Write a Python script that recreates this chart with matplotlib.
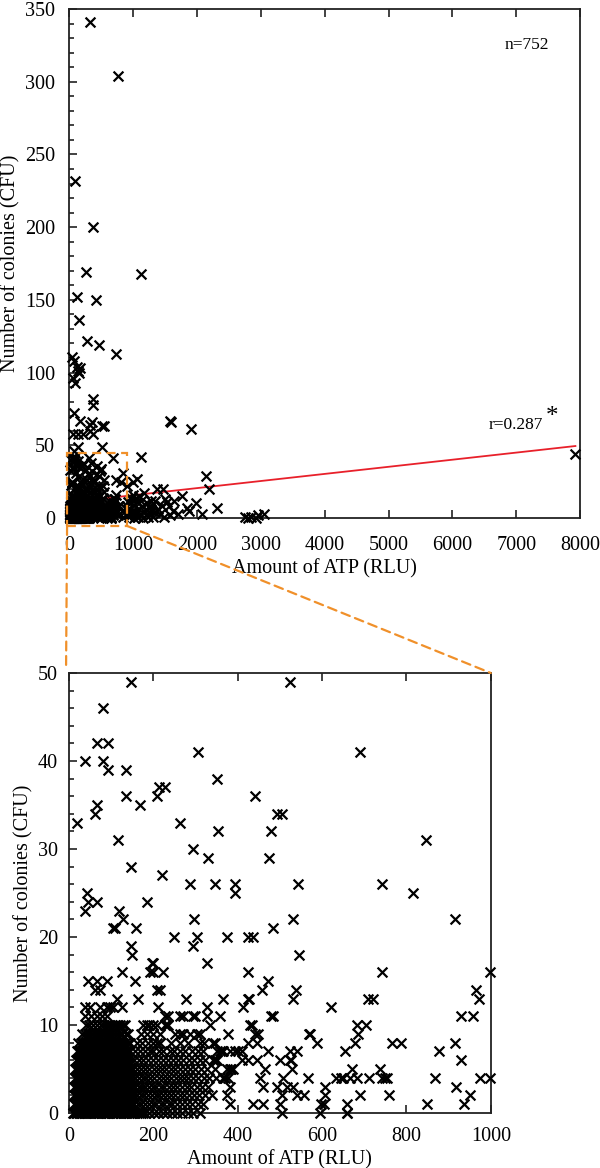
import numpy as np
import matplotlib.pyplot as plt
from matplotlib.patches import Rectangle, ConnectionPatch
from matplotlib.ticker import MultipleLocator

plt.rcParams['font.family'] = ['Liberation Serif', 'DejaVu Serif']

# ATP (RLU) values of samples in the 0-1000 / 0-50 window, one list per colony count
x_cfu0 = [10, 12, 16, 20, 24, 27, 31, 36, 40, 43, 47, 52, 56, 60, 64, 69, 72, 76, 80, 85, 88, 92,
          96, 101, 104, 108, 112, 117, 120, 124, 128, 133, 137, 142, 146, 150, 155, 161, 165, 170,
          175, 181, 190, 201, 210, 222, 233, 245, 256, 268, 282, 295, 311, 504, 595, 658, 660]
x_cfu1 = [11, 15, 19, 22, 26, 30, 34, 37, 40, 44, 48, 51, 54, 58, 62, 65, 68, 72, 76, 79, 82, 86,
          90, 93, 96, 100, 104, 107, 110, 114, 118, 121, 124, 128, 132, 136, 139, 143, 147, 151,
          155, 164, 171, 181, 189, 199, 207, 217, 225, 236, 245, 257, 267, 280, 292, 306, 318, 382,
          437, 461, 500, 598, 604, 658, 848, 936]
x_cfu2 = [12, 15, 18, 22, 26, 29, 33, 37, 41, 44, 47, 51, 55, 58, 61, 65, 69, 72, 75, 79, 83, 86,
          89, 93, 97, 100, 103, 107, 111, 114, 117, 121, 125, 128, 131, 135, 139, 142, 146, 150,
          155, 162, 171, 178, 188, 196, 206, 214, 224, 232, 243, 252, 263, 273, 285, 296, 309, 322,
          340, 374, 504, 540, 556, 607, 690, 759, 950]
x_cfu3 = [13, 17, 21, 24, 27, 31, 35, 38, 41, 45, 49, 52, 55, 59, 63, 66, 69, 73, 77, 80, 83, 87,
          91, 94, 97, 101, 105, 108, 111, 115, 119, 122, 125, 129, 133, 137, 140, 145, 149, 153,
          156, 165, 172, 181, 189, 199, 207, 217, 226, 237, 246, 257, 267, 279, 290, 303, 315, 330,
          382, 461, 492, 516, 532, 607, 918]
x_cfu4 = [14, 18, 21, 25, 29, 33, 36, 41, 45, 48, 52, 57, 61, 65, 68, 72, 77, 81, 84, 88, 93, 97,
          100, 104, 109, 113, 116, 120, 125, 129, 132, 137, 141, 145, 148, 153, 157, 165, 175, 183,
          193, 202, 213, 222, 233, 242, 253, 262, 273, 283, 295, 305, 319, 332, 349, 365, 370, 377,
          453, 508, 567, 634, 646, 650, 666, 682, 712, 741, 749, 755, 867, 974, 998]
x_cfu5 = [15, 19, 23, 27, 32, 36, 39, 44, 48, 52, 55, 60, 64, 68, 71, 76, 80, 84, 87, 92, 96, 100,
          103, 108, 112, 116, 119, 124, 128, 132, 135, 140, 144, 148, 152, 162, 170, 181, 190, 201,
          210, 221, 230, 242, 252, 264, 274, 287, 298, 313, 328, 345, 374, 382, 385, 389, 464, 528,
          670, 737]
x_cfu6 = [16, 20, 24, 29, 33, 37, 40, 45, 49, 53, 56, 61, 65, 69, 72, 77, 81, 85, 88, 93, 97, 101,
          104, 109, 113, 117, 120, 125, 129, 133, 136, 141, 146, 155, 166, 175, 187, 198, 211, 222,
          235, 246, 259, 270, 284, 296, 311, 322, 342, 346, 350, 411, 425, 445, 500, 524, 527, 930]
x_cfu7 = [18, 23, 27, 31, 35, 40, 45, 49, 52, 57, 62, 66, 70, 75, 80, 84, 88, 93, 98, 102, 106,
          111, 116, 120, 124, 130, 135, 140, 144, 157, 168, 181, 192, 200, 213, 224, 239, 250, 263,
          276, 291, 305, 318, 350, 358, 362, 366, 382, 393, 401, 409, 472, 524, 540, 654, 877]
x_cfu8 = [22, 28, 33, 38, 42, 48, 53, 57, 60, 66, 71, 76, 80, 86, 91, 96, 100, 106, 111, 116, 120,
          127, 133, 139, 145, 161, 172, 187, 200, 208, 216, 241, 263, 281, 311, 320, 342, 346, 425,
          445, 587, 678, 765, 786, 915]
x_cfu9 = [30, 38, 46, 51, 55, 61, 66, 72, 78, 84, 89, 95, 100, 107, 113, 120, 126, 134, 141, 170,
          186, 198, 216, 251, 263, 271, 286, 303, 310, 377, 441, 449, 569, 571, 686]
x_cfu10 = [40, 48, 58, 66, 75, 84, 90, 96, 102, 108, 115, 122, 128, 133, 176, 184, 190, 200, 208,
           227, 231, 235, 334, 429, 433, 682, 704]
x_cfu11 = [38, 52, 66, 78, 89, 227, 235, 263, 271, 295, 299, 326, 358, 480, 484, 930, 958]
x_cfu12 = [38, 50, 73, 89, 97, 105, 125, 212, 326, 413, 622]
x_cfu13 = [113, 164, 277, 364, 425, 426, 530, 710, 721, 972]
x_cfu14 = [62, 73, 208, 216, 457, 539, 966]
x_cfu15 = [46, 66, 89, 156, 472]
x_cfu16 = [125, 192, 200, 224, 425, 743, 999]

# sparse points of the zoom window above 16 CFU
hi_x = [148, 524, 81, 67, 93, 307, 690, 38, 80, 93, 135, 351, 214, 227, 135, 209, 441, 67, 168,
        62, 494, 504, 18, 263, 354, 479, 117, 846, 293, 330, 475, 148, 221, 287, 346, 393, 543,
        743, 43, 393, 816, 45, 66, 186, 38, 118, 128, 297, 531, 915, 105, 110, 160, 484, 249, 304,
        374, 425, 437, 148, 293, 149, 546, 196, 200, 326]
hi_y = [49, 49, 46, 42, 42, 41, 41, 40, 40, 39, 39, 38, 37, 37, 36, 36, 36, 35, 35,
        34, 34, 34, 33, 33, 32, 32, 31, 31, 30, 29, 29, 28, 27, 26, 26, 26, 26,
        26, 25, 25, 25, 24, 24, 24, 23, 23, 22, 22, 22, 22, 21, 21, 21, 21, 20, 20,
        20, 20, 20, 19, 19, 18, 18, 17, 17, 17]

# samples outside the zoom window (only in the full view)
out_x = [330, 770, 95, 380, 270, 1132, 131, 425, 157, 288, 472, 739, 50, 80, 120, 170, 140, 160,
         60, 90, 383, 380, 79, 173, 330, 357, 540, 514, 68, 147, 225, 383, 330,
         1587, 1600, 1913, 1132, 2138, 2196, 2311, 2086, 1981, 1840, 1761, 1378, 1472, 1535,
         1560, 1430, 1320, 1352, 1300, 1483, 1580, 2750, 2800, 2850, 2920, 2960, 3050, 7925,
         1000, 1064, 1170, 1010, 1030, 1050, 1080, 1100, 1120, 1150, 1180, 1200, 1220, 1250,
         1270, 1020, 1040, 1060, 1090, 1130, 1160, 1230, 1280, 1300, 1350, 1400, 1450, 1500,
         1620, 1650, 1700, 1880]
out_y = [341, 304, 232, 200, 169, 168, 152, 150, 136, 122, 119, 113, 111, 108, 104, 103, 101, 100,
         96, 93, 82, 78, 72, 67, 64, 66, 63, 63, 58, 58, 58, 58, 60,
         67, 66, 61, 42, 29, 20, 7, 3, 10, 7, 15, 20, 20, 11,
         8, 3, 1, 12, 9, 1, 2, 1, 0, 1, 0, 2, 3, 44,
         25, 27, 17, 0, 2, 4, 1, 6, 3, 8, 5, 2, 10, 4,
         7, 9, 13, 11, 15, 12, 0, 1, 12, 5, 4, 6, 8, 13,
         5, 12, 3, 5]

# regression line end points (r = 0.287)
trend_x = [600, 7925]
trend_y = [13.7, 49.5]

rows = [x_cfu0, x_cfu1, x_cfu2, x_cfu3, x_cfu4, x_cfu5, x_cfu6, x_cfu7, x_cfu8,
        x_cfu9, x_cfu10, x_cfu11, x_cfu12, x_cfu13, x_cfu14, x_cfu15, x_cfu16]
zx = np.concatenate([np.array(r, float) for r in rows] + [np.array(hi_x, float)])
zy = np.concatenate([np.full(len(r), i, float) for i, r in enumerate(rows)] + [np.array(hi_y, float)])
all_x = np.concatenate([zx, out_x])
all_y = np.concatenate([zy, out_y])

orange = '#F0902A'
fig = plt.figure(figsize=(6, 11.68), dpi=100)
ax1 = fig.add_axes([0.115, 0.5565, 0.852, 0.4358])
ax2 = fig.add_axes([0.115, 0.0471, 0.703, 0.3767])


def style(ax, xpad, ypad):
    for s in ax.spines.values():
        s.set_linewidth(1.3)
        s.set_color('#222222')
    ax.tick_params(which='both', direction='in', top=True, right=False, labelsize=14.5,
                   color='#222222', width=1.2)
    ax.tick_params(which='major', length=6)
    ax.tick_params(which='minor', length=3.5)
    ax.tick_params(axis='x', which='minor', top=False, bottom=False)
    ax.tick_params(axis='x', pad=xpad)
    ax.tick_params(axis='y', pad=ypad)


# full view
ax1.plot(trend_x, trend_y, color='#E8202A', lw=1.3, zorder=2)
ax1.scatter(all_x, all_y, marker='x', s=50, c='black', linewidths=1.6, zorder=3, clip_on=False)
ax1.set_xlim(0, 8000)
ax1.set_ylim(0, 350)
ax1.xaxis.set_major_locator(MultipleLocator(1000))
ax1.yaxis.set_major_locator(MultipleLocator(50))
ax1.yaxis.set_minor_locator(MultipleLocator(10))
style(ax1, 13, 10)
ax1.set_xlabel('Amount of ATP (RLU)', fontsize=14.5, labelpad=3)
ax1.set_ylabel('Number of colonies (CFU)', fontsize=14.5, labelpad=3)
ax1.text(0.895, 0.93, 'n=752', transform=ax1.transAxes, fontsize=12.5, ha='center', va='center')
ax1.text(0.875, 0.182, 'r=0.287', transform=ax1.transAxes, fontsize=12.5, ha='center', va='center')
ax1.text(0.945, 0.198, '*', transform=ax1.transAxes, fontsize=18, ha='center', va='center')

# zoomed view
ax2.scatter(zx, zy, marker='x', s=50, c='black', linewidths=1.6, zorder=3, clip_on=False)
ax2.set_xlim(0, 1000)
ax2.set_ylim(0, 50)
ax2.xaxis.set_major_locator(MultipleLocator(200))
ax2.yaxis.set_major_locator(MultipleLocator(10))
ax2.yaxis.set_minor_locator(MultipleLocator(2))
style(ax2, 10, 8)
ax2.set_xlabel('Amount of ATP (RLU)', fontsize=14.5, labelpad=3)
ax2.set_ylabel('Number of colonies (CFU)', fontsize=14.5, labelpad=3)

# zoom box and connectors
ax1.add_patch(Rectangle((-30, -5.5), 942, 50.2, fill=False, ec=orange, lw=1.6,
                        ls=(0, (4, 2.5)), clip_on=False, zorder=4))
for (xa, ya), (xb, yb) in [((-30, -5.5), (-7, 50.3)), ((912, -5.5), (1000, 50))]:
    con = ConnectionPatch(xyA=(xa, ya), coordsA=ax1.transData, xyB=(xb, yb), coordsB=ax2.transData,
                          color=orange, lw=1.6, ls=(0, (4, 2.5)))
    fig.add_artist(con)

fig.savefig('out.png', dpi=100)
